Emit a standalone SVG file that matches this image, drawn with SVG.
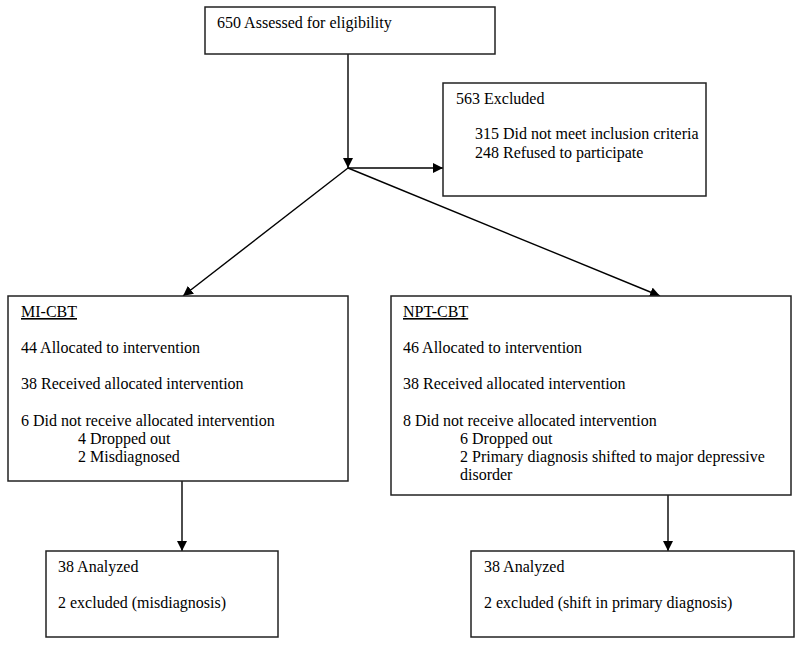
<svg xmlns="http://www.w3.org/2000/svg" width="800" height="647" viewBox="0 0 800 647">
<defs>
<marker id="ah" viewBox="0 0 10 10" refX="10" refY="5" markerWidth="10" markerHeight="10" markerUnits="userSpaceOnUse" orient="auto">
<path d="M0,0 L10,5 L0,10 z" fill="#000"/>
</marker>
</defs>
<style>
.box{fill:#fff;stroke:#222;stroke-width:1.5}
text{font-family:"Liberation Serif","Times New Roman",serif;font-size:16px;fill:#000}
.c line{stroke:#000;stroke-width:1.4;marker-end:url(#ah)}
</style>
<rect width="800" height="647" fill="#fff"/>
<g class="c" id="connectors">
<line x1="348" y1="54" x2="348" y2="168"/>
<line x1="348" y1="168" x2="443" y2="168"/>
<line x1="348" y1="168" x2="183" y2="296"/>
<line x1="348" y1="168" x2="660" y2="296"/>
<line x1="182" y1="481" x2="182" y2="551"/>
<line x1="668" y1="495" x2="668" y2="551"/>
</g>
<g id="assessed">
<rect class="box" x="205" y="7" width="290" height="47"/>
<text x="217" y="28">650 Assessed for eligibility</text>
</g>
<g id="excluded">
<rect class="box" x="443" y="83" width="263" height="113"/>
<text x="456" y="104">563 Excluded</text>
<text x="475" y="139">315 Did not meet inclusion criteria</text>
<text x="475" y="158">248 Refused to participate</text>
</g>
<g id="micbt">
<rect class="box" x="8" y="296" width="340" height="185"/>
<text x="21" y="317" text-decoration="underline">MI-CBT</text>
<text x="21" y="353">44 Allocated to intervention</text>
<text x="21" y="389">38 Received allocated intervention</text>
<text x="21" y="426">6 Did not receive allocated intervention</text>
<text x="78" y="444">4 Dropped out</text>
<text x="78" y="462">2 Misdiagnosed</text>
</g>
<g id="nptcbt">
<rect class="box" x="391" y="296" width="400" height="199"/>
<text x="403" y="317" text-decoration="underline">NPT-CBT</text>
<text x="403" y="353">46 Allocated to intervention</text>
<text x="403" y="389">38 Received allocated intervention</text>
<text x="403" y="426">8 Did not receive allocated intervention</text>
<text x="460" y="444">6 Dropped out</text>
<text x="460" y="462">2 Primary diagnosis shifted to major depressive</text>
<text x="460" y="480">disorder</text>
</g>
<g id="analyzed-left">
<rect class="box" x="46" y="551" width="232" height="86"/>
<text x="58" y="572">38 Analyzed</text>
<text x="58" y="608">2 excluded (misdiagnosis)</text>
</g>
<g id="analyzed-right">
<rect class="box" x="471" y="551" width="323" height="86"/>
<text x="484" y="572">38 Analyzed</text>
<text x="484" y="608">2 excluded (shift in primary diagnosis)</text>
</g>
</svg>
